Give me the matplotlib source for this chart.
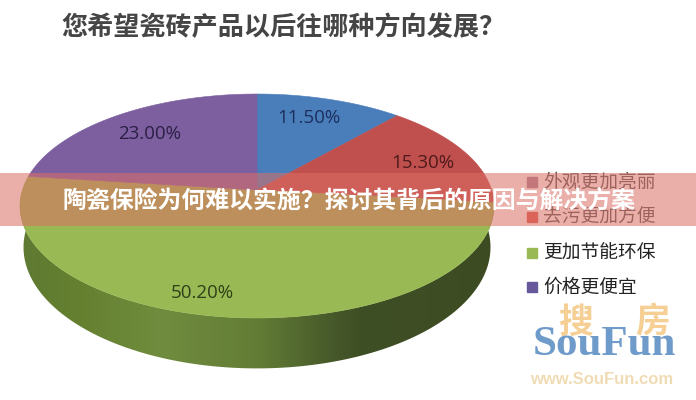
import numpy as np
import matplotlib
matplotlib.use("Agg")
import matplotlib.pyplot as plt
from matplotlib.colors import LinearSegmentedColormap
from matplotlib.patches import Rectangle, Polygon

plt.rcParams['font.family'] = ['Noto Sans CJK SC', 'DejaVu Sans']

title = "您希望瓷砖产品以后往哪种方向发展？"
banner = "陶瓷保险为何难以实施？探讨其背后的原因与解决方案"
categories = ["外观更加亮丽", "去污更加方便", "更加节能环保", "价格更便宜"]
values = [11.5, 15.3, 50.2, 23.0]
labels = ["11.50%", "15.30%", "50.20%", "23.00%"]
colors = ["#4a7ebb", "#c0504d", "#98b954", "#7d5fa0"]
label_colors = ["#1c2f5e", "#4f1a1c", "#2f4018", "#2b1f45"]
label_xy = [(309, 118), (423, 163), (202, 293), (150, 134)]

W, H = 696, 400
fig = plt.figure(figsize=(W/100, H/100), dpi=100)
ax = fig.add_axes([0, 0, 1, 1])

CX, CY, A, B, K, DEPTH = 257, 190, 234.6, 109.7, 1/7, 40

def proj(theta):
    s, c = np.sin(theta), np.cos(theta)
    d = 1 + K*s
    return CX + A*c/d, CY - B*s/d

# side wall, shaded left to right
t = np.linspace(np.radians(-180), 0, 300)
x, y = proj(t)
d = DEPTH*(1 + K*np.sin(t))**-1.5
xb = CX + (x - CX)*0.985
side = LinearSegmentedColormap.from_list('s', [
    (0.0, '#5f7a33'), (0.12, '#64802f'), (0.3, '#708c3e'), (0.5, '#637d36'),
    (0.66, '#46592a'), (0.72, '#3f4f25'), (1.0, '#3d4b22')])
im = ax.imshow(np.linspace(0, 1, 256)[None, :], cmap=side, aspect='auto',
               extent=(20, 494, 380, 180), zorder=1)
wall = Polygon(np.c_[np.r_[x, xb[::-1]], np.r_[y, (y + d)[::-1]]], closed=True,
               transform=ax.transData, fc='none', ec='none')
ax.add_patch(wall)
im.set_clip_path(wall)

# top face
start = np.pi/2
fr = np.array(values)/sum(values)
for v, col in zip(fr, colors):
    end = start - 2*np.pi*v
    tt = np.linspace(start, end, 200)
    xx, yy = proj(tt)
    ax.fill(np.r_[CX, xx], np.r_[CY, yy], color=col, lw=0.4, zorder=2)
    start = end

for (lx, ly), s, c in zip(label_xy, labels, label_colors):
    ax.text(lx, ly, s, fontsize=13.5, color=c, ha='center', va='center', zorder=3,
            family=['Open Sans', 'DejaVu Sans'])

ax.text(283, 28, title, fontsize=18.8, color='#454545', ha='center', va='center', zorder=3,
        fontweight='bold')

# legend
leg_y = [182, 217, 253, 287]
leg_c = ["#a88298", "#d9584d", "#98b954", "#66589a"]
for yy, c, col, tc in zip(leg_y, categories, leg_c, ['#555', '#555', '#222', '#222']):
    ax.add_patch(Rectangle((527, yy-5), 10, 10, color=col, zorder=3))
    ax.text(543, yy, c, fontsize=13.5, color=tc, ha='left', va='center', zorder=3)

# logo
ax.text(575, 322, "搜", fontsize=25, color='#f5cf94', ha='center', va='center', zorder=3, fontweight='bold')
ax.text(653, 322, "房", fontsize=25, color='#f5cf94', ha='center', va='center', zorder=3, fontweight='bold')
ax.text(604, 345, "SouFun", fontsize=31, color='#6f9bcb', ha='center', va='center', zorder=4,
        family='Liberation Serif', fontweight='bold')
ax.text(602, 379, "www.SouFun.com", fontsize=12, color='#f0dcb4', ha='center', va='center', zorder=4,
        fontweight='bold', family='Liberation Sans')

# banner
ax.add_patch(Rectangle((0, 173), W, 53, color='#dc6e64', alpha=0.55, lw=0, zorder=5))
ax.text(349, 201, banner, fontsize=17.2, color='white', ha='center', va='center', zorder=6, fontweight='bold')

ax.set_xlim(0, W); ax.set_ylim(H, 0); ax.axis('off')
fig.savefig('out.png', dpi=100)
